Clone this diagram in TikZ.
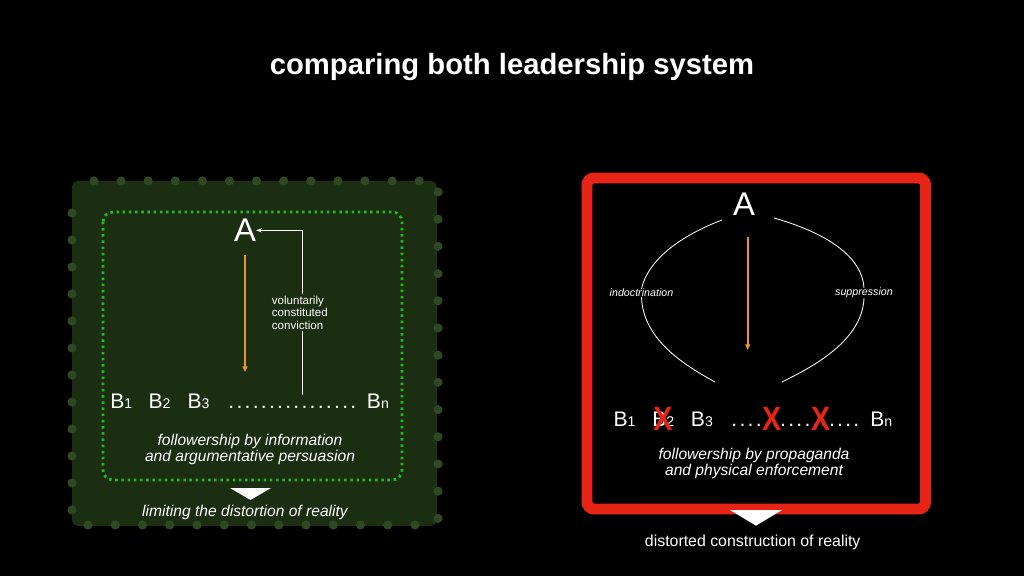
\documentclass[tikz,border=0pt]{standalone}
\usepackage{fontspec}
\setmainfont{Liberation Sans}
\usetikzlibrary{arrows.meta}
\definecolor{boxgreen}{RGB}{27,46,18}
\definecolor{outerdot}{RGB}{45,72,35}
\definecolor{innerdot}{RGB}{34,185,34}
\definecolor{orangeA}{RGB}{232,150,40}
\definecolor{redA}{RGB}{232,36,22}
\newcommand\bsub[1]{{\fontsize{10}{12}\selectfont #1}}
\newcommand\ldot{\makebox[5.78pt]{.}}
\newcommand\dotrow{\ldot\ldot\ldot\ldot\ldot\ldot\ldot\ldot\ldot\ldot\ldot\ldot\ldot\ldot\ldot\ldot}
\tikzset{
  bigA/.style={font=\fontsize{23.3}{26}\selectfont, anchor=base},
  brow/.style={font=\fontsize{15}{18}\selectfont, anchor=base west},
  note/.style={font=\itshape\fontsize{11.1}{11.4}\selectfont, align=center},
  small/.style={font=\itshape\fontsize{7.6}{9}\selectfont},
  orangearrow/.style={orangeA, line width=1.4pt, -{Triangle[length=4pt,width=3.5pt]}},
  thin/.style={white, line width=0.6pt},
  redx/.style={redA, font=\bfseries\fontsize{24}{26}\selectfont, anchor=base, xscale=0.85},
}
\begin{document}
\begin{tikzpicture}[x=0.025cm,y=-0.025cm, every node/.style={inner sep=0pt, text=white}]
\fill[black] (0,0) rectangle (1024,576);
\useasboundingbox (0,0) rectangle (1024,576);

% title
\node[font=\bfseries\fontsize{20.8}{24}\selectfont, anchor=base] (title) at (512,75) {comparing both leadership system};

% ---------- left panel ----------
\fill[boxgreen, rounded corners=4pt] (72,181) rectangle (437,526);
\foreach \i in {0,...,12} \fill[outerdot] (94+27.1*\i,181) circle (4.6);
\foreach \i in {0,...,12} \fill[outerdot] (88+27.25*\i,525) circle (4.6);
\foreach \i in {0,...,11} \fill[outerdot] (72,213+27*\i) circle (4.6);
\foreach \i in {0,...,12} \fill[outerdot] (438,192+27.2*\i) circle (4.6);
\draw[innerdot, line width=2pt, dash pattern=on 1.8pt off 2.6pt, rounded corners=7pt] (103,212) rectangle (402,480);

\node[bigA] (Al) at (245,241.6) {A};
\coordinate (olTop) at (245,255);
\coordinate (olBot) at (245,372);
\draw[orangearrow] (olTop) -- (olBot);

\coordinate (cl) at (302,395);
\draw[thin, -{Stealth[length=4pt,width=3pt]}] (cl) |- (Al.east);
\node[fill=boxgreen, inner sep=1.2pt, align=left, anchor=north west, font=\fontsize{8.2}{8.9}\selectfont] (vcc) at (270,294) {voluntarily\\constituted\\conviction};

\node[brow] (b1l) at (110,408) {B\bsub{1}};
\node[brow] (b2l) at (148.3,408) {B\bsub{2}};
\node[brow] (b3l) at (187.3,408) {B\bsub{3}};
\node[brow] (dotl) at (227,408) {\dotrow};
\node[brow] (bnl) at (366.7,408) {B\bsub{n}};

\node[note] (fl) at (250,449) {followership by information\\and argumentative persuasion};
\fill[white] (230,488) -- (271,488) -- (250.5,500) -- cycle;
\node[note, anchor=base] (lim) at (245,516.7) {limiting the distortion of reality};

% ---------- right panel ----------
\draw[redA, line width=7.8pt, rounded corners=5pt] (587,178) rectangle (925.5,509);

\node[bigA] (Ar) at (744,215.7) {A};
\coordinate (orTop) at (747.7,236.7);
\coordinate (orBot) at (747.7,350);
\draw[orangearrow] (orTop) -- (orBot);

\node[small] (ind) at (641.5,293) {indoctrination};
\node[small] (sup) at (864,293) {suppression};
\coordinate (lEnd) at (715,382);
\coordinate (rEnd) at (782,382);
\draw[thin] (722,220) .. controls (680,236) and (648,260) .. (ind.north);
\draw[thin] (ind.south) .. controls (643,342) and (690,368) .. (lEnd);
\draw[thin] (774,218) .. controls (830,234) and (862,258) .. (sup.north);
\draw[thin] (sup.south) .. controls (862,342) and (810,368) .. (rEnd);

\node[brow] (b1r) at (613.3,426) {B\bsub{1}};
\node[brow] (b2r) at (652,426) {B\bsub{2}};
\node[brow] (b3r) at (690.7,426) {B\bsub{3}};
\node[brow] (dotr) at (730,426) {\dotrow};
\node[brow] (bnr) at (870,426) {B\bsub{n}};
\node[redx] (x1) at (663,430) {X};
\node[redx] (x2) at (771.7,430) {X};
\node[redx] (x3) at (820.7,430) {X};

\node[note] (fr) at (754,463) {followership by propaganda\\and physical enforcement};
\fill[white] (730,510) -- (782,510) -- (756,525.7) -- cycle;
\node[font=\fontsize{11.3}{13}\selectfont, anchor=base] (dist) at (752.7,546.7) {distorted construction of reality};
\end{tikzpicture}
\end{document}
